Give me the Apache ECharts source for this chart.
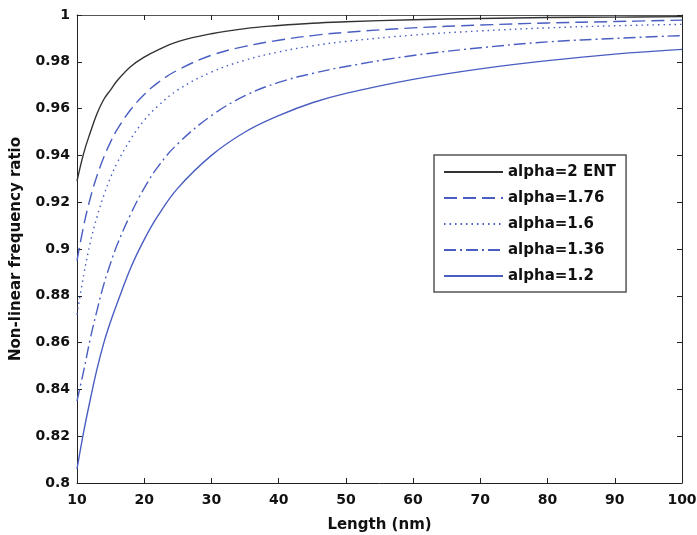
<!DOCTYPE html>
<html>
<head>
<meta charset="utf-8">
<script src="https://cdn.jsdelivr.net/npm/echarts@6/dist/echarts.min.js"></script>
<style>
  html, body { margin: 0; padding: 0; background: #fff; }
  #chart { width: 697px; height: 535px; }
</style>
</head>
<body>
<div id="chart"></div>
<script>
// lengths (nm)
var lengths = [10, 11, 12, 13, 14, 15, 16, 18, 20, 22, 25, 30, 35, 40, 45, 50, 60, 70, 80, 90, 100]

var alpha2 = [0.929, 0.941, 0.950, 0.958, 0.964, 0.968, 0.972, 0.978, 0.982, 0.985, 0.9886, 0.992, 0.9942, 0.9955, 0.9965, 0.9971, 0.998, 0.9985, 0.9989, 0.9991, 0.9993]
var alpha176 = [0.895, 0.910, 0.922, 0.9315, 0.9393, 0.9458, 0.9512, 0.9596, 0.966, 0.971, 0.9765, 0.9828, 0.9866, 0.9892, 0.9912, 0.9926, 0.9945, 0.9957, 0.9966, 0.9972, 0.9978]
var alpha16 = [0.872, 0.889, 0.903, 0.914, 0.923, 0.9306, 0.937, 0.947, 0.955, 0.961, 0.968, 0.9756, 0.9807, 0.9842, 0.9868, 0.9887, 0.9914, 0.9932, 0.9945, 0.9954, 0.996]
var alpha136 = [0.835, 0.848, 0.862, 0.874, 0.885, 0.894, 0.902, 0.915, 0.926, 0.935, 0.945, 0.957, 0.9655, 0.9712, 0.975, 0.978, 0.9827, 0.986, 0.9885, 0.990, 0.9912]
var alpha12 = [0.806, 0.822, 0.836, 0.849, 0.860, 0.869, 0.877, 0.892, 0.904, 0.914, 0.926, 0.940, 0.950, 0.957, 0.9625, 0.9665, 0.9725, 0.977, 0.9805, 0.9833, 0.9853]

var names = ['alpha=2 ENT', 'alpha=1.76', 'alpha=1.6', 'alpha=1.36', 'alpha=1.2']

var font = 'DejaVu Sans, sans-serif'
var blue = '#4a5ec2'

function pairs(ys) {
  return lengths.map(function (x, i) { return [x, ys[i]] })
}

function line(name, ys, color, type) {
  return {
    name: name,
    type: 'line',
    symbol: 'none',
    smooth: 0.4,
    data: pairs(ys),
    lineStyle: { color: color, width: 1.4, type: type },
    itemStyle: { color: color }
  }
}

var chart = echarts.init(document.getElementById('chart'), null, { renderer: 'canvas' })

var tickStyle = { show: true, inside: true, length: 5, lineStyle: { color: '#222', width: 1 } }

var option = {
  animation: false,
  backgroundColor: '#fff',
  grid: { left: 77, right: 15, top: 15, bottom: 52, containLabel: false, outerBoundsMode: 'none' },
  legend: {
    orient: 'vertical',
    left: 434,
    top: 155,
    padding: [9, 10, 8, 9],
    itemGap: 10,
    itemWidth: 59,
    itemHeight: 16,
    backgroundColor: '#fff',
    borderColor: '#555',
    borderWidth: 1.5,
    itemStyle: { opacity: 0 },
    textStyle: { fontFamily: font, fontWeight: 'bold', fontSize: 15, lineHeight: 16, color: '#111' },
    data: names
  },
  xAxis: [{
    type: 'value',
    min: 10,
    max: 100,
    interval: 10,
    name: 'Length (nm)',
    nameLocation: 'middle',
    nameGap: 35,
    nameTextStyle: { fontFamily: font, fontWeight: 'bold', fontSize: 15, color: '#111' },
    axisLine: { lineStyle: { color: '#222', width: 1 } },
    axisTick: tickStyle,
    axisLabel: { fontFamily: font, fontWeight: 'bold', fontSize: 14, color: '#111', margin: 10 },
    splitLine: { show: false }
  }, {
    type: 'value',
    position: 'top',
    min: 10,
    max: 100,
    interval: 10,
    axisLine: { show: true, lineStyle: { color: '#555', width: 1 } },
    axisTick: tickStyle,
    axisLabel: { show: false },
    splitLine: { show: false }
  }],
  yAxis: [{
    type: 'value',
    min: 0.8,
    max: 1,
    interval: 0.02,
    name: 'Non-linear frequency ratio',
    nameLocation: 'middle',
    nameGap: 53,
    nameTextStyle: { fontFamily: font, fontWeight: 'bold', fontSize: 15, color: '#111' },
    axisLine: { show: true, lineStyle: { color: '#222', width: 1 } },
    axisTick: tickStyle,
    axisLabel: { fontFamily: font, fontWeight: 'bold', fontSize: 14, color: '#111', margin: 7 },
    splitLine: { show: false }
  }, {
    type: 'value',
    position: 'right',
    min: 0.8,
    max: 1,
    interval: 0.02,
    axisLine: { show: true, lineStyle: { color: '#222', width: 1 } },
    axisTick: tickStyle,
    axisLabel: { show: false },
    splitLine: { show: false }
  }],
  series: [
    line(names[0], alpha2, '#333', 'solid'),
    line(names[1], alpha176, blue, [13, 6]),
    line(names[2], alpha16, blue, [1.5, 4]),
    line(names[3], alpha136, blue, [12, 4, 2, 4]),
    line(names[4], alpha12, blue, 'solid')
  ]
}

chart.setOption(option)
</script>
</body>
</html>
